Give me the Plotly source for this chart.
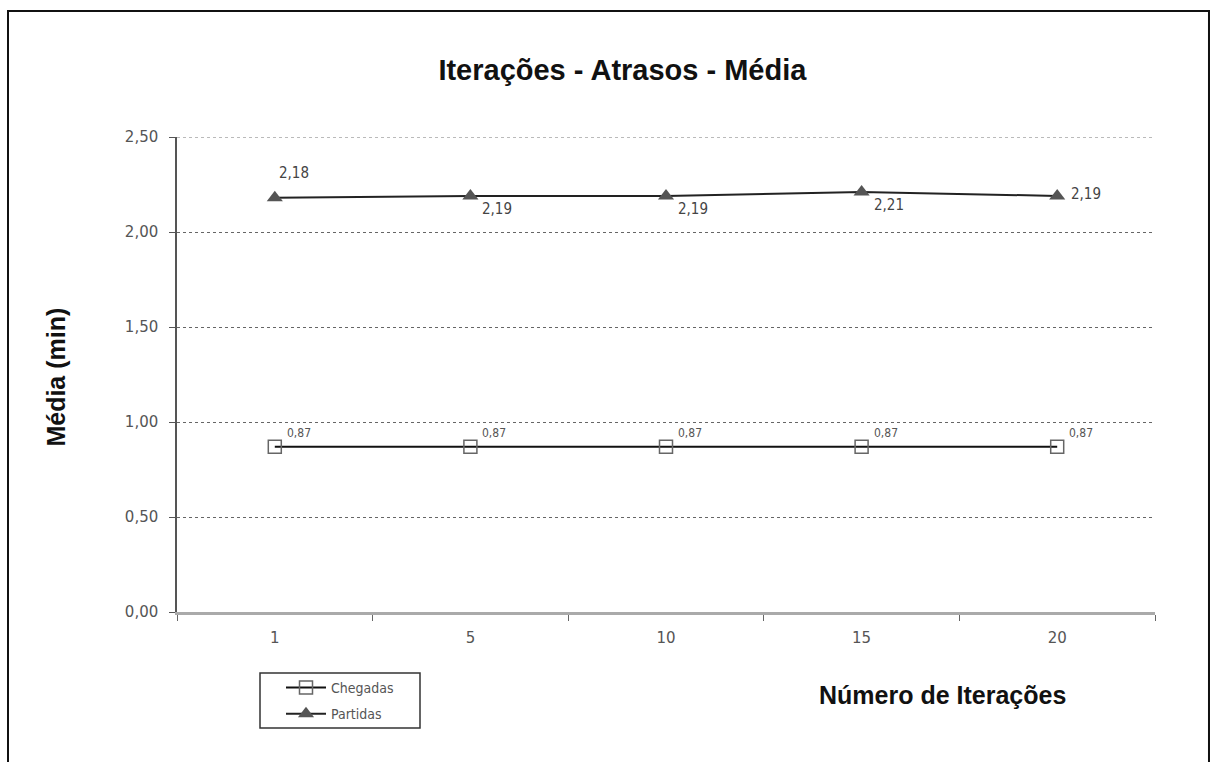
import plotly.graph_objects as go

# Iteration counts (categories) and average delays (minutes)
iteracoes = ["1", "5", "10", "15", "20"]
chegadas = [0.87, 0.87, 0.87, 0.87, 0.87]
partidas = [2.18, 2.19, 2.19, 2.21, 2.19]
y_ticks = [0.0, 0.5, 1.0, 1.5, 2.0, 2.5]
y_tick_text = ["0,00", "0,50", "1,00", "1,50", "2,00", "2,50"]

def fmt(v):
    return f"{v:.2f}".replace(".", ",")

tickfam = "DejaVu Sans, Verdana, sans-serif"
condfam = "DejaVu Sans Condensed, DejaVu Sans, sans-serif"
bold = "Liberation Sans, Arial"

fig = go.Figure()

fig.add_trace(go.Scatter(
    x=iteracoes, y=chegadas, name="Chegadas", mode="lines+markers",
    legendgroup="c",
    line=dict(color="#111111", width=2),
    marker=dict(symbol="square-open", size=13, color="#666666",
                line=dict(width=1.5, color="#666666")),
))
fig.add_trace(go.Scatter(
    x=iteracoes, y=partidas, name="Partidas", mode="lines+markers",
    legendgroup="p",
    line=dict(color="#222222", width=2),
    marker=dict(symbol="triangle-up", size=14, color="#555555"),
))

annotations = []
# value labels for Chegadas: above-right of each point (x given as category index)
for i, v in enumerate(chegadas):
    annotations.append(dict(x=i, y=v, xref="x", yref="y", text=fmt(v), showarrow=False,
                            xanchor="left", yanchor="bottom", xshift=10, yshift=5,
                            font=dict(family=condfam, size=12, color="#555555")))
# value labels for Partidas
for i, v in enumerate(partidas):
    if i == 0:
        xs, ys, ya = 2, 14, "bottom"
    elif i == len(partidas) - 1:
        xs, ys, ya = 12, 2, "middle"
    else:
        xs, ys, ya = 10, -2, "top"
    annotations.append(dict(x=i, y=v, xref="x", yref="y", text=fmt(v), showarrow=False,
                            xanchor="left", yanchor=ya, xshift=xs, yshift=ys,
                            font=dict(family=condfam, size=15, color="#444444")))

# x-axis title placed at the lower right
annotations.append(dict(xref="paper", yref="paper", x=0.783, y=-0.175,
                        text="<b>Número de Iterações</b>", showarrow=False,
                        xanchor="center", yanchor="middle",
                        font=dict(family=bold, size=25, color="#111111")))
# y-axis title
annotations.append(dict(xref="paper", yref="paper", x=-0.124, y=0.495,
                        text="<b>Média (min)</b>", showarrow=False, textangle=-90,
                        xanchor="center", yanchor="middle",
                        font=dict(family=bold, size=25, color="#111111")))

shapes = [
    # outer frame
    dict(type="rect", xref="paper", yref="paper",
         x0=-0.1728, x1=1.0552, y0=-0.36, y1=1.2653,
         line=dict(color="#111111", width=2), layer="below"),
    # legend frame
    dict(type="rect", xref="paper", yref="paper",
         x0=(260 - 177) / 978, x1=(420 - 177) / 978,
         y0=(612 - 728) / 475, y1=(612 - 673) / 475,
         line=dict(color="#333333", width=1.5), fillcolor="white", layer="below"),
    # top gridline at the range edge
    dict(type="line", xref="paper", yref="y", x0=0, x1=1,
         y0=y_ticks[-1], y1=y_ticks[-1],
         line=dict(color="#777777", width=1, dash="3px,3px"), layer="below"),
]

fig.update_layout(
    width=1218, height=762,
    margin=dict(l=177, r=63, t=137, b=150),
    paper_bgcolor="white", plot_bgcolor="white",
    title=dict(text="<b>Iterações - Atrasos - Média</b>", x=0.511, xanchor="center",
               y=0.908, yanchor="middle",
               font=dict(family=bold, size=29, color="#111111")),
    showlegend=True,
    legend=dict(x=(281 - 177) / 978, y=(612 - 672) / 475, xanchor="left", yanchor="top",
                bgcolor="rgba(0,0,0,0)", borderwidth=0,
                font=dict(family=condfam, size=14, color="#555555"),
                itemwidth=40, tracegroupgap=5, traceorder="grouped"),
    annotations=annotations,
    shapes=shapes,
)

fig.update_xaxes(
    type="category", range=[-0.5, 4.5],
    showline=True, linecolor="#aaaaaa", linewidth=3,
    ticks="outside", tickson="boundaries", ticklen=6, tickcolor="#666666",
    showgrid=False, zeroline=False, ticklabelstandoff=10,
    tickfont=dict(family=tickfam, size=15, color="#555555"),
)
fig.update_yaxes(
    range=[0, 2.5], tickvals=y_ticks, ticktext=y_tick_text,
    showline=True, linecolor="#555555", linewidth=1.5,
    ticks="outside", ticklen=6, tickcolor="#555555",
    showgrid=True, gridcolor="#666666", griddash="3px,3px", gridwidth=1,
    zeroline=False, ticklabelstandoff=8,
    tickfont=dict(family=tickfam, size=15, color="#555555"),
)

fig.write_html("out.html")
